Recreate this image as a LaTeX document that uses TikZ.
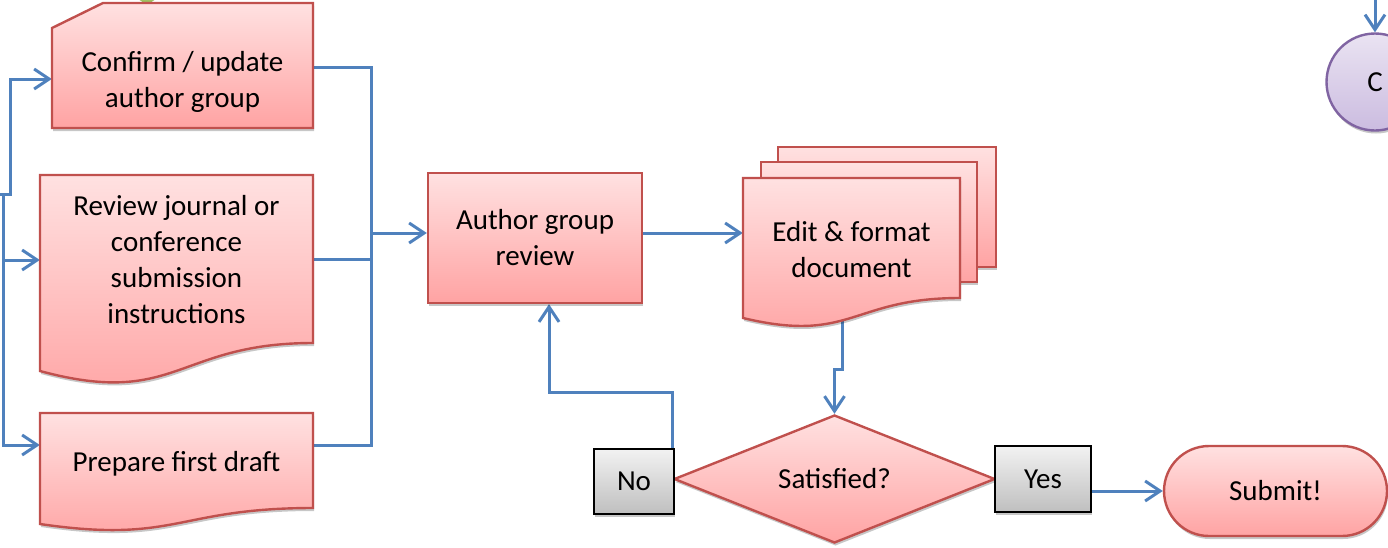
\documentclass[tikz,border=0pt]{standalone}
\usepackage{fontspec}
\setmainfont{Carlito}
\usetikzlibrary{arrows.meta,shapes.geometric,shadows,backgrounds,calc}
\definecolor{pinkTop}{HTML}{FFE1E1}
\definecolor{pinkBot}{HTML}{FFA3A3}
\definecolor{redLine}{HTML}{C0504D}
\definecolor{blueLine}{HTML}{4F81BD}
\definecolor{grayTop}{HTML}{F2F2F2}
\definecolor{grayBot}{HTML}{BFBFBF}
\definecolor{purpTop}{HTML}{EAE3F2}
\definecolor{purpBot}{HTML}{CBBCE0}
\definecolor{purpLine}{HTML}{8064A2}
\definecolor{greenA}{HTML}{9BBB59}
\begin{document}
\begin{tikzpicture}[x=1pt,y=-1pt,
  shd/.style={drop shadow={shadow xshift=1pt,shadow yshift=-3pt,opacity=0.22,fill=black}},
  pinkshape/.style={shd,top color=pinkTop,bottom color=pinkBot,draw=redLine,line width=2.4pt,line join=miter},
  txt/.style={inner sep=0pt,align=center,font=\fontsize{29pt}{36pt}\selectfont,text=black},
  slot/.style={txt,draw=none,fill=none,rectangle},
  conn/.style={draw=blueLine,line width=3pt},
  arr/.style={conn,-{Straight Barb[length=15pt,width=20pt,line width=3pt]}},
  graybox/.style={txt,rectangle,shd,top color=grayTop,bottom color=grayBot,draw=black,line width=2.4pt},
]
\useasboundingbox (0,0) rectangle (1388,547);

% partly visible green element at the top
\shade[top color=greenA!60, bottom color=greenA] (147,-8) circle (11pt);

% Confirm / update (snipped corner)
\path[pinkshape] (52,28) -- (103,3) -- (313,3) -- (313,128) -- (52,128) -- cycle;
% Review journal (document)
\path[pinkshape] (40,175) -- (313,175) -- (313,343) .. controls (176.5,343) and (176.5,408) .. (40,371) -- cycle;
% Prepare first draft (document)
\path[pinkshape] (40,413) -- (313,413) -- (313,508) .. controls (176.5,508) and (176.5,544) .. (40,524) -- cycle;
% Edit & format (multidocument)
\path[pinkshape] (778,147) rectangle (996,267);
\path[pinkshape] (761,162) rectangle (977,282);
\path[pinkshape] (743,178) -- (960,178) -- (960,298) .. controls (851.5,298) and (851.5,344) .. (743,318) -- cycle;

\node[slot,minimum width=261pt,minimum height=100pt] (confirm) at (182.5,82) {Confirm / update\\author group};
\node[slot,minimum width=273pt,minimum height=168pt] (review) at (176.5,260) {Review journal or\\conference\\submission\\instructions};
\node[slot,minimum width=273pt,minimum height=95pt] (prepare) at (176.5,464) {Prepare first draft};
\node[txt,rectangle,pinkshape,minimum width=214pt,minimum height=130pt] (author) at (535,238) {Author group\\review};
\node[slot,minimum width=217pt,minimum height=140pt] (edit) at (851.5,250) {Edit \& format\\document};
\node[txt,diamond,pinkshape,aspect=2.5,minimum width=321pt,minimum height=128pt] (sat) at (834.5,479) {Satisfied?};
\node[graybox,minimum width=80pt,minimum height=65pt] (no) at (634,481.5) {No};
\node[graybox,minimum width=96pt,minimum height=66pt] (yes) at (1043,479) {Yes};
\node[txt,rectangle,pinkshape,rounded corners=45pt,minimum width=223pt,minimum height=90pt] (submit) at (1275.5,491) {Submit!};
\node[txt,circle,shd,top color=purpTop,bottom color=purpBot,draw=purpLine,line width=2.4pt,minimum size=97pt] (cnode) at (1375,82) {C};

\begin{scope}[on background layer]
\coordinate (src) at (0,194);
\coordinate (split) at (3,194);
\coordinate (trunk) at (371,233);
\coordinate (ctop) at (1375,0);
\draw[arr] (src) -- ++(10,0) |- ([yshift=3pt]confirm.west);
\draw[arr] (split) |- ([yshift=19pt]prepare.west);
\draw[arr] (split |- review.west) -- (review.west);
\draw[conn] ([yshift=15pt]confirm.east) -- ++(58,0) |- ([yshift=19pt]prepare.east);
\draw[conn] ([yshift=1pt]review.east) -- ++(58,0);
\draw[arr] (trunk) -- ([yshift=5pt]author.west);
\draw[arr] ([yshift=5pt]author.east) -- ([yshift=17pt]edit.west);
\draw[arr] ([xshift=-9pt]edit.south) -- ++(0,49) -| (sat.north);
\draw[arr] (sat.west) -- ++(0,-87) -| ([xshift=14pt]author.south);
\draw[arr] (submit.west -| yes.east) -- (submit.west);
\draw[arr] (ctop) -- (cnode.north);
\end{scope}
\end{tikzpicture}
\end{document}
